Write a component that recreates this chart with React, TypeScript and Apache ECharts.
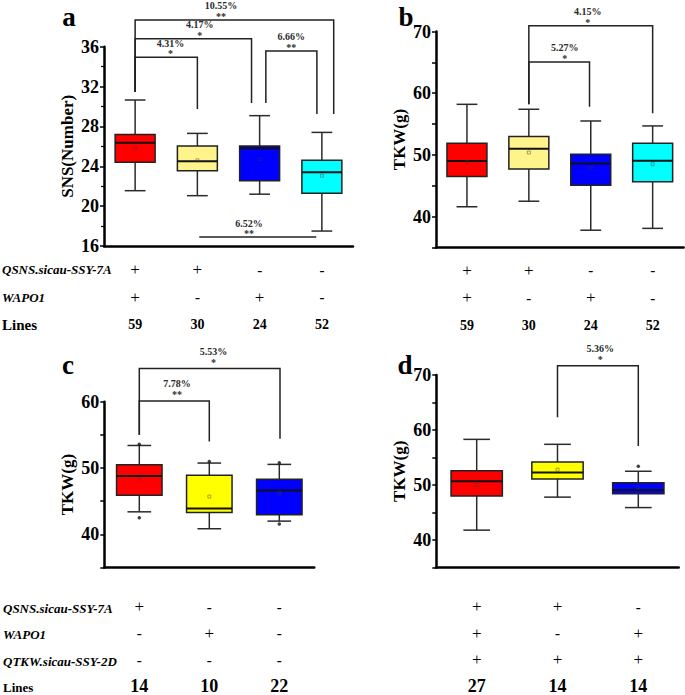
import React, { useEffect, useRef } from "react";
import * as echarts from "echarts";

const FONT = "'Liberation Serif', 'Times New Roman', Times, serif";

// ---------- Panel a : SNS(Number) ----------
const catsA = ["QSNS+/WAPO1+", "QSNS+/WAPO1-", "QSNS-/WAPO1+", "QSNS-/WAPO1-"];
// [min, Q1, median, Q3, max]
const boxA = [
  [21.55, 24.4, 26.37, 27.2, 30.65],
  [21.05, 23.56, 24.5, 26.03, 27.3],
  [21.2, 22.55, 25.8, 26.03, 29.08],
  [17.5, 21.3, 23.4, 24.6, 27.4],
];
const meanA = [25.8, 24.6, 24.7, 23.05];
const qsnsA = ["+", "+", "-", "-"];
const wapoA = ["+", "-", "+", "-"];
const linesA = [59, 30, 24, 52];

// ---------- Panel b : TKW(g) ----------
const catsB = catsA;
const boxB = [
  [41.6, 46.5, 49.0, 51.9, 58.2],
  [42.5, 47.7, 51.0, 53.0, 57.4],
  [37.8, 45.1, 48.6, 50.1, 55.5],
  [38.1, 45.65, 49.05, 51.9, 54.7],
];
const meanB = [48.85, 50.4, 47.9, 48.5];
const qsnsB = qsnsA;
const wapoB = wapoA;
const linesB = [59, 30, 24, 52];

// ---------- Panel c : TKW(g) ----------
const catsC = ["+/-/-", "-/+/-", "-/-/-"];
const boxC = [
  [43.4, 45.9, 48.8, 50.5, 53.4],
  [40.85, 43.3, 43.9, 48.9, 50.75],
  [42.0, 42.95, 46.6, 48.3, 50.55],
];
const meanC = [48.4, 45.7, 46.2];
const outC = [
  [0, 53.6],
  [0, 42.5],
  [1, 51.0],
  [2, 50.8],
  [2, 41.55],
];
const qsnsC = ["+", "-", "-"];
const wapoC = ["-", "+", "-"];
const qtkwC = ["-", "-", "-"];
const linesC = [14, 10, 22];

// ---------- Panel d : TKW(g) ----------
const catsD = ["+/+/+", "+/-/+", "-/+/+"];
const boxD = [
  [41.8, 48.0, 50.7, 52.6, 58.3],
  [47.8, 51.1, 52.3, 54.2, 57.4],
  [45.9, 48.4, 49.1, 50.4, 52.5],
];
const meanD = [50.05, 52.8, 49.5];
const outD = [[2, 53.4]];
const qsnsD = ["+", "+", "-"];
const wapoD = ["+", "-", "+"];
const qtkwD = ["+", "+", "+"];
const linesD = [27, 14, 14];

// ---------- significance brackets (x in category units, y in data units) ----------
const brA = [
  { x1: 0, x2: 1.0, y: 34.95, y1: 31.45, y2: 29.75, at: 0.57, pct: "4.31%", sig: "*" },
  { x1: 0, x2: 1.87, y: 36.8, y1: 31.45, y2: 30.35, at: 1.04, pct: "4.17%", sig: "*" },
  { x1: 0, x2: 3.19, y: 38.68, y1: 31.45, y2: 29.25, at: 1.38, pct: "10.55%", sig: "**" },
  { x1: 2.1, x2: 2.92, y: 35.57, y1: 30.35, y2: 29.25, at: 2.51, pct: "6.66%", sig: "**" },
  { x1: 1.03, x2: 2.91, y: 16.9, y1: 16.9, y2: 16.9, at: 1.83, pct: "6.52%", sig: "**" },
];
const brB = [
  { x1: 1, x2: 1.98, y: 65.06, y1: 58.2, y2: 57.8, at: 1.58, pct: "5.27%", sig: "*" },
  { x1: 1, x2: 3.0, y: 70.94, y1: 58.2, y2: 56.75, at: 1.95, pct: "4.15%", sig: "*" },
];
const brC = [
  { x1: 0, x2: 1.0, y: 60.1, y1: 55.0, y2: 54.0, at: 0.54, pct: "7.78%", sig: "**" },
  { x1: 0, x2: 2.01, y: 64.99, y1: 55.0, y2: 54.4, at: 1.06, pct: "5.53%", sig: "*" },
];
const brD = [
  { x1: 1, x2: 2.0, y: 71.67, y1: 62.3, y2: 57.1, at: 1.53, pct: "5.36%", sig: "*" },
];

const colorsAB = ["#FF0000", "#FFF38C", "#0000FF", "#00FFFF"];
const colorsCD = ["#FF0000", "#FFFF00", "#0000FF"];

const makeBox = (colors: string[], ratio: number) => (params: any, api: any) => {
  const i = api.value(0);
  const c = (v: number) => api.coord([i, v]);
  const [cx, yMin] = c(api.value(1));
  const yQ1 = c(api.value(2))[1];
  const yMed = c(api.value(3))[1];
  const yQ3 = c(api.value(4))[1];
  const yMax = c(api.value(5))[1];
  const yMean = c(api.value(6))[1];
  const bw = api.size([1, 0])[0] * ratio;
  const cw = bw * 0.52;
  const ls = { stroke: "#2b2b2b", lineWidth: 1.5 };
  return {
    type: "group",
    children: [
      { type: "line", shape: { x1: cx, y1: yMax, x2: cx, y2: yQ3 }, style: ls },
      { type: "line", shape: { x1: cx, y1: yQ1, x2: cx, y2: yMin }, style: ls },
      { type: "line", shape: { x1: cx - cw / 2, y1: yMax, x2: cx + cw / 2, y2: yMax }, style: ls },
      { type: "line", shape: { x1: cx - cw / 2, y1: yMin, x2: cx + cw / 2, y2: yMin }, style: ls },
      {
        type: "rect",
        shape: { x: cx - bw / 2, y: yQ3, width: bw, height: yQ1 - yQ3 },
        style: { fill: colors[params.dataIndex], stroke: "#222", lineWidth: 1.5 },
      },
      { type: "line", shape: { x1: cx - bw / 2, y1: yMed, x2: cx + bw / 2, y2: yMed }, style: { stroke: "#111", lineWidth: 2 } },
      {
        type: "rect",
        shape: { x: cx - 1.5, y: yMean - 1.5, width: 3, height: 3 },
        style: { fill: "none", stroke: "rgba(60,60,60,0.55)", lineWidth: 0.8 },
      },
    ],
  };
};

const makeBracket = (brs: any[], dyPct: number, dyStar: number) => (params: any, api: any) => {
  const b = brs[params.dataIndex];
  const x0 = api.coord([0, b.y])[0];
  const step = api.size([1, 0])[0];
  const px = (x: number) => x0 + x * step;
  const py = (v: number) => api.coord([0, v])[1];
  const yl = py(b.y);
  const pts = [
    [px(b.x1), py(b.y1)],
    [px(b.x1), yl],
    [px(b.x2), yl],
    [px(b.x2), py(b.y2)],
  ];
  const lx = px(b.at);
  const ts = (text: string, size: number) => ({
    text,
    fill: "#2a2a2a",
    font: `bold ${size}px ${FONT}`,
    align: "center",
    verticalAlign: "middle",
    textAlign: "center",
    textVerticalAlign: "middle",
  });
  return {
    type: "group",
    children: [
      { type: "polyline", shape: { points: pts }, style: { stroke: "#222", lineWidth: 1.5, fill: "none" } },
      { type: "text", x: lx, y: yl + dyPct, style: ts(b.pct, 10) },
      { type: "text", x: lx, y: yl + dyStar, style: ts(b.sig, 10) },
    ],
  };
};

const yAxisDef = (grid: number, min: number, max: number, interval: number, name: string, minor: boolean) => ({
  gridIndex: grid,
  type: "value",
  min,
  max,
  interval,
  name,
  nameLocation: "middle",
  nameGap: 28,
  nameTextStyle: { fontFamily: FONT, fontWeight: "bold", fontSize: 17, color: "#000" },
  axisLine: { show: true, lineStyle: { color: "#000", width: 2.5 } },
  axisTick: { show: true, length: 4, lineStyle: { color: "#000", width: 1.5 } },
  minorTick: { show: minor, splitNumber: 2, length: 3, lineStyle: { color: "#000", width: 1.2 } },
  splitLine: { show: false },
  axisLabel: {
    fontFamily: FONT,
    fontWeight: "bold",
    fontSize: 18,
    color: "#000",
    margin: 5,
    formatter: (v: number) => (minor || v % 10 === 0 ? String(v) : ""),
  },
});

const xAxisDef = (grid: number, cats: string[], rows: string[][], lines: number[], lh: number, margin: number, numSize: number) => ({
  gridIndex: grid,
  type: "category",
  data: cats,
  axisLine: { onZero: false, lineStyle: { color: "#000", width: 2.5 } },
  axisTick: { show: false },
  splitLine: { show: false },
  axisLabel: {
    interval: 0,
    margin,
    color: "#000",
    fontFamily: FONT,
    formatter: (_v: string, idx: number) =>
      rows
        .map((r) => (r[idx] === "+" ? "{p|+}" : "{m|-}"))
        .concat([`{n|${lines[idx]}}`])
        .join("\n"),
    rich: {
      p: { fontFamily: FONT, fontSize: 17, color: "#000", lineHeight: lh },
      m: { fontFamily: FONT, fontSize: 15, fontWeight: "bold", color: "#000", lineHeight: lh },
      n: { fontFamily: FONT, fontSize: numSize, fontWeight: "bold", color: "#000", lineHeight: lh },
    },
  },
});

const boxData = (box: number[][], mean: number[]) => box.map((b, i) => [i, ...b, mean[i]]);

export default function App() {
  const ref = useRef<HTMLDivElement>(null);
  useEffect(() => {
    if (!ref.current) return;
    const chart = echarts.init(ref.current, undefined, { renderer: "svg" });
    const rowLabel = (text: string, x: number, y: number, italic: boolean, size: number) => ({
      type: "text",
      x,
      y,
      style: {
        text,
        font: `${italic ? "italic " : ""}bold ${size}px ${FONT}`,
        fill: "#000",
        align: "left",
        verticalAlign: "middle",
        textAlign: "left",
        textVerticalAlign: "middle",
      },
    });
    const letter = (text: string, x: number, y: number) => ({
      type: "text",
      x,
      y,
      style: {
        text,
        font: `bold 27px ${FONT}`,
        fill: "#000",
        align: "center",
        verticalAlign: "middle",
        textAlign: "center",
        textVerticalAlign: "middle",
      },
    });
    const option: any = {
      animation: false,
      backgroundColor: "#fff",
      grid: [
        { left: 104, top: 46.7, width: 249, height: 199.3 },
        { left: 436, top: 31.5, width: 247.6, height: 216 },
        { left: 104.3, top: 401.7, width: 210, height: 167.6 },
        { left: 436.3, top: 375, width: 242.4, height: 194.3 },
      ],
      xAxis: [
        xAxisDef(0, catsA, [qsnsA, wapoA], linesA, 27.5, 10, 14),
        xAxisDef(1, catsB, [qsnsB, wapoB], linesB, 27.5, 9, 14),
        xAxisDef(2, catsC, [qsnsC, wapoC, qtkwC], linesC, 26.5, 25.7, 18),
        xAxisDef(3, catsD, [qsnsD, wapoD, qtkwD], linesD, 26.5, 25.7, 18),
      ],
      yAxis: [
        yAxisDef(0, 16, 36, 4, "SNS(Number)", true),
        yAxisDef(1, 35, 70, 5, "TKW(g)", false),
        yAxisDef(2, 35, 60, 5, "TKW(g)", false),
        yAxisDef(3, 35, 70, 5, "TKW(g)", false),
      ],
      series: [
        { type: "custom", xAxisIndex: 0, yAxisIndex: 0, clip: false, renderItem: makeBox(colorsAB, 0.642), data: boxData(boxA, meanA), encode: { x: 0, y: [1, 2, 3, 4, 5, 6] } },
        { type: "custom", xAxisIndex: 1, yAxisIndex: 1, clip: false, renderItem: makeBox(colorsAB, 0.646), data: boxData(boxB, meanB), encode: { x: 0, y: [1, 2, 3, 4, 5, 6] } },
        { type: "custom", xAxisIndex: 2, yAxisIndex: 2, clip: false, renderItem: makeBox(colorsCD, 0.65), data: boxData(boxC, meanC), encode: { x: 0, y: [1, 2, 3, 4, 5, 6] } },
        { type: "custom", xAxisIndex: 3, yAxisIndex: 3, clip: false, renderItem: makeBox(colorsCD, 0.635), data: boxData(boxD, meanD), encode: { x: 0, y: [1, 2, 3, 4, 5, 6] } },
        { type: "scatter", xAxisIndex: 2, yAxisIndex: 2, symbol: "circle", symbolSize: 3.5, itemStyle: { color: "#111" }, data: outC },
        { type: "scatter", xAxisIndex: 3, yAxisIndex: 3, symbol: "circle", symbolSize: 3.5, itemStyle: { color: "#111" }, data: outD },
        { type: "custom", xAxisIndex: 0, yAxisIndex: 0, clip: false, renderItem: makeBracket(brA, -14, -3.5), data: brA.map((b) => [b.x1, b.y]), encode: { x: 0, y: 1 } },
        { type: "custom", xAxisIndex: 1, yAxisIndex: 1, clip: false, renderItem: makeBracket(brB, -14, -3.5), data: brB.map((b) => [b.x1, b.y]), encode: { x: 0, y: 1 } },
        { type: "custom", xAxisIndex: 2, yAxisIndex: 2, clip: false, renderItem: makeBracket(brC, -17.5, -6.5), data: brC.map((b) => [b.x1, b.y]), encode: { x: 0, y: 1 } },
        { type: "custom", xAxisIndex: 3, yAxisIndex: 3, clip: false, renderItem: makeBracket(brD, -17.5, -6.5), data: brD.map((b) => [b.x1, b.y]), encode: { x: 0, y: 1 } },
      ],
      graphic: [
        letter("a", 69, 16.7),
        letter("b", 406, 17.2),
        letter("c", 68, 364.5),
        letter("d", 405, 364.5),
        rowLabel("QSNS.sicau-SSY-7A", 2, 269.75, true, 13),
        rowLabel("WAPO1", 2, 297.25, true, 13),
        rowLabel("Lines", 2, 324.75, false, 15),
        rowLabel("QSNS.sicau-SSY-7A", 3, 608.25, true, 13),
        rowLabel("WAPO1", 3, 634.75, true, 13),
        rowLabel("QTKW.sicau-SSY-2D", 3, 661.25, true, 13),
        rowLabel("Lines", 3, 687.75, false, 13),
      ],
    };
    chart.setOption(option);
    return () => chart.dispose();
  }, []);
  return (
    <div
      ref={ref}
      style={{ position: "absolute", left: 0, top: 0, width: 685, height: 695, background: "#fff" }}
    />
  );
}
